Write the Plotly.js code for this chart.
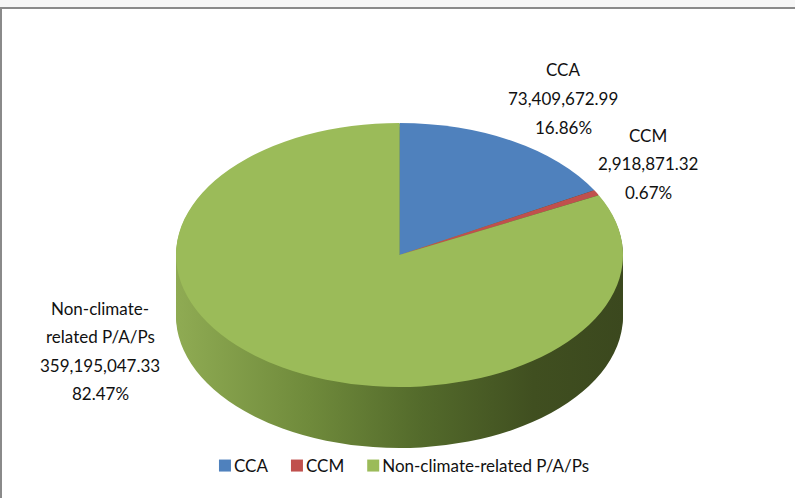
<!DOCTYPE html>
<html><head><meta charset="utf-8">
<script src="https://cdn.plot.ly/plotly-3.0.1.min.js"></script>
<style>html,body{margin:0;padding:0;background:#fff;overflow:hidden}#chart{width:795px;height:498px}</style>
</head><body>
<svg width="0" height="0" style="position:absolute"><defs>
<linearGradient id="sideGrad" x1="0" y1="0" x2="1" y2="0">
<stop offset="0" stop-color="#8fab53"/><stop offset="0.3" stop-color="#6f8a3b"/>
<stop offset="0.55" stop-color="#536a2b"/><stop offset="0.8" stop-color="#404f20"/>
<stop offset="1" stop-color="#3b481e"/></linearGradient></defs></svg>
<div id="chart"></div>
<script>
// ---- data ----
const categories = ['CCA', 'CCM', 'Non-climate-related P/A/Ps'];
const labelLines = [['CCA'], ['CCM'], ['Non-climate-', 'related P/A/Ps']];
const values = [73409672.99, 2918871.32, 359195047.33];
const colors = ['#4f81bd', '#c0504d', '#9bbb59'];

// ---- layout constants (pixels) ----
const W = 795, H = 498;
const CX = 399.5, R = 223.5, CYTOP = 255, RY = 132, DEPTH = 61;
const labelAnchors = [[563, 70], [648, 135], [100, 308]];
const LINE = 28.5;
const FONT = 'Lato, "Open Sans", sans-serif';
const LEGEND_CENTER = 404, LEGEND_SYM_GAP = 3, LEGEND_ITEM_GAP = 23;

const total = values.reduce((a, b) => a + b, 0);
const fmt = v => v.toLocaleString('en-US', {minimumFractionDigits: 2, maximumFractionDigits: 2});
const pct = v => (v / total * 100).toFixed(2) + '%';
const px = x => x / W, py = y => 1 - y / H;

const dom = {x: [px(CX - R), px(CX + R)], y: [py(249 + R), py(249 - R)]};
const depthSteps = [];
for (let d = DEPTH; d > 0; d -= 3) depthSteps.push(d);

const traces = [];
depthSteps.forEach(() => traces.push({
  type: 'pie', labels: categories, values: values, sort: false, direction: 'clockwise',
  rotation: 0, textinfo: 'none', hoverinfo: 'skip', showlegend: false,
  marker: {colors: ['#404f20', '#404f20', '#55692c'], line: {width: 0}}, domain: dom
}));
traces.push({
  type: 'pie', labels: categories, values: values, sort: false, direction: 'clockwise',
  rotation: 0, textinfo: 'none', hoverinfo: 'skip', showlegend: true,
  marker: {colors: colors, line: {width: 0}}, domain: dom
});

const annotations = [];
categories.forEach((c, i) => {
  const lines = labelLines[i].concat([fmt(values[i]), pct(values[i])]);
  lines.forEach((t, j) => annotations.push({
    text: t, x: px(labelAnchors[i][0]), y: py(labelAnchors[i][1] + j * LINE),
    xref: 'paper', yref: 'paper', xanchor: 'center', yanchor: 'middle', showarrow: false,
    font: {family: FONT, size: 17, color: '#111111'}
  }));
});

const layout = {
  width: W, height: H, margin: {l: 0, r: 0, t: 0, b: 0},
  paper_bgcolor: '#ffffff', font: {family: FONT, size: 17, color: '#111111'},
  showlegend: true,
  legend: {orientation: 'h', x: 0.505, xanchor: 'center', y: py(466), yanchor: 'middle',
           font: {family: FONT, size: 17, color: '#111111'}, bgcolor: 'rgba(0,0,0,0)', itemwidth: 30},
  annotations: annotations,
  shapes: [
    {type: 'rect', xref: 'paper', yref: 'paper', x0: 0, x1: 1, y0: py(7), y1: 1, fillcolor: '#f6f6f6', line: {width: 0}, layer: 'below'},
    {type: 'line', xref: 'paper', yref: 'paper', x0: 0, x1: 1, y0: py(8), y1: py(8), line: {color: '#8a8a8a', width: 2}},
    {type: 'line', xref: 'paper', yref: 'paper', x0: px(1), x1: px(1), y0: 0, y1: py(8), line: {color: '#8a8a8a', width: 2}}
  ]
};

Plotly.newPlot('chart', traces, layout, {staticPlot: true, displayModeBar: false}).then(gd => {
  // project the pie into an oblique (tilted) view and stack the side layers
  const groups = gd.querySelectorAll('.pielayer g.trace');
  groups.forEach((g, i) => {
    const cd0 = gd.calcdata[i][0];
    const k = RY / cd0.r;
    const d = i < depthSteps.length ? depthSteps[i] : 0;
    g.setAttribute('transform', 'translate(0,' + (CYTOP + d) + ') scale(1,' + k + ') translate(0,' + (-cd0.cy) + ')');
    if (i < depthSteps.length) g.querySelectorAll('path.surface').forEach(p => { p.style.fill = 'url(#sideGrad)'; });
  });
  // tighten legend: small gap between swatch and text
  const items = Array.from(gd.querySelectorAll('.legend g.traces'));
  const info = items.map(it => {
    const sym = it.querySelector('.legendpoints path');
    const txt = it.querySelector('text.legendtext');
    const sb = sym.getBBox();
    const symRightLocal = 20 + sb.x + sb.width; // swatch translated by 20
    txt.setAttribute('x', symRightLocal + LEGEND_SYM_GAP);
    txt.querySelectorAll('tspan').forEach(t => { if (t.hasAttribute('x')) t.setAttribute('x', symRightLocal + LEGEND_SYM_GAP); });
    const w = sb.width + LEGEND_SYM_GAP + txt.getComputedTextLength();
    return {it, sym, w};
  });
  const totalW = info.reduce((a, o) => a + o.w, 0) + LEGEND_ITEM_GAP * (info.length - 1);
  let cursor = LEGEND_CENTER - totalW / 2;
  const rootLeft = gd.getBoundingClientRect().left;
  info.forEach(o => {
    const cur = o.sym.getBoundingClientRect().left - rootLeft;
    const m = /translate\(\s*([-\d.e]+)[ ,]+([-\d.e]+)\s*\)/.exec(o.it.getAttribute('transform') || 'translate(0,0)');
    const ox = m ? parseFloat(m[1]) : 0, oy = m ? parseFloat(m[2]) : 0;
    o.it.setAttribute('transform', 'translate(' + (ox + cursor - cur) + ',' + oy + ')');
    cursor += o.w + LEGEND_ITEM_GAP;
  });
});
</script>
</body></html>
